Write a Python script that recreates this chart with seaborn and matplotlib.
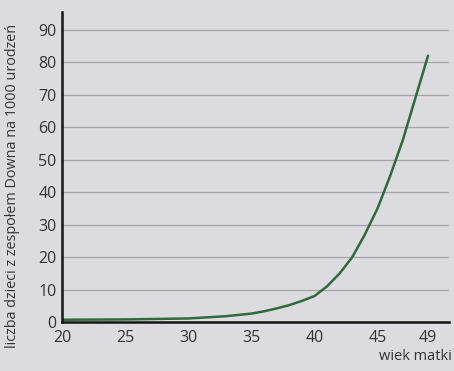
"""
Down syndrome risk vs maternal age
"""

import numpy as np
import matplotlib.pyplot as plt
import seaborn as sns

# Data
wiek = [20, 25, 30, 33, 35, 36, 37, 38, 39, 40, 41, 42, 43, 44, 45, 46, 47, 48, 49]
liczba = [0.7, 0.8, 1.1, 1.8, 2.6, 3.3, 4.2, 5.2, 6.5, 8.0, 11, 15, 20, 27, 35, 45, 56, 69, 82]
x_ticks = [20, 25, 30, 35, 40, 45, 49]
y_ticks = list(range(0, 100, 10))

bg = '#dcdce0'
sns.set_style('white')
plt.rcParams['font.family'] = ['Open Sans', 'DejaVu Sans']

fig = plt.figure(figsize=(4.54, 3.71), dpi=100, facecolor=bg)
ax = fig.add_axes([0.137, 0.132, 0.853, 0.836])
ax.set_facecolor(bg)

sns.lineplot(x=wiek, y=liczba, color='#2f6a3a', linewidth=1.8, ax=ax)

ax.set_xlim(20, 50.7)
ax.set_ylim(0, 95.5)
ax.set_xticks(x_ticks)
ax.set_yticks(y_ticks)
ax.yaxis.grid(True, color='#a4a4a8', linewidth=0.9)
ax.set_axisbelow(True)
ax.tick_params(axis='x', direction='in', length=4, width=1.2, color='#222222',
               labelsize=11.5, pad=6, labelcolor='#333333')
ax.tick_params(axis='y', length=0, labelsize=11.5, pad=4, labelcolor='#333333')

sns.despine(ax=ax)
for s in ['left', 'bottom']:
    ax.spines[s].set_color('#151515')
    ax.spines[s].set_linewidth(1.8)

ax.set_ylabel('liczba dzieci z zespołem Downa na 1000 urodzeń', fontsize=10.4,
              color='#333333')
ax.yaxis.set_label_coords(-0.11, 0.44)
fig.text(0.995, 0.02, 'wiek matki', ha='right', va='bottom', fontsize=10.5, color='#333333')

plt.savefig('out.png', dpi=100, facecolor=bg)
plt.close()
